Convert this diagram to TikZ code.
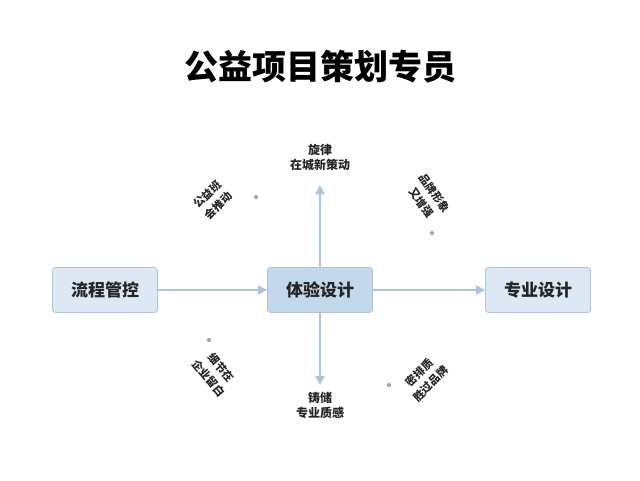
\documentclass[tikz,border=0pt]{standalone}
\usepackage{fontspec}
\newfontfamily\cjk{Noto Sans CJK SC}
\usetikzlibrary{arrows.meta}
\definecolor{bx}{HTML}{DCE8F3}
\definecolor{bxc}{HTML}{C3D8EA}
\definecolor{bd}{HTML}{A9C4DC}
\definecolor{ar}{HTML}{A9C4DC}
\tikzset{
 box/.style={draw=bd,line width=0.8pt,rounded corners=3pt,minimum width=105pt,minimum height=45pt,font=\cjk\bfseries\fontsize{17}{20}\selectfont,text=black!85},
 arr/.style={draw=ar,line width=2pt,-{Triangle[length=9pt,width=9pt]}},
 lab/.style={font=\cjk\bfseries\fontsize{12}{15}\selectfont,align=center,text=black!85},
 rlab/.style={font=\cjk\bfseries\fontsize{11}{16}\selectfont,align=center,text=black!85},
 dot/.style={fill=gray!70,circle,inner sep=1.5pt}
}
\begin{document}
\begin{tikzpicture}[x=1pt,y=-1pt]
\useasboundingbox[fill=white] (0,0) rectangle (640,480);
\node[font=\cjk\bfseries\fontsize{34}{40}\selectfont] (t) at (320,67) {公益项目策划专员};
\node[box,fill=bx] (l) at (105,290) {流程管控};
\node[box,fill=bxc] (c) at (320,290) {体验设计};
\node[box,fill=bx] (r) at (538,290) {专业设计};
\coordinate (u) at (320,185);
\coordinate (d) at (320,385);
\draw[arr] (l) -- (c);
\draw[arr] (c) -- (r);
\draw[arr] (c) -- (u);
\draw[arr] (c) -- (d);
\node[lab] (lu) at (320,157) {旋律\\在城新策动};
\node[lab] (ld) at (320,405) {铸储\\专业质感};
\node[rlab,rotate=45] (a1) at (213,200) {公益班\\会推动};
\node[rlab,rotate=-55] (a2) at (428,198) {品牌形象\\又增强};
\node[rlab,rotate=-50] (a3) at (215,373) {细节在\\企业留白};
\node[rlab,rotate=45] (a4) at (425,378) {密排质\\胜过品牌};
\node[dot] (d1) at (256,197) {};
\node[dot] (d2) at (432,233) {};
\node[dot] (d3) at (209,340) {};
\node[dot] (d4) at (389,385) {};
\end{tikzpicture}
\end{document}
